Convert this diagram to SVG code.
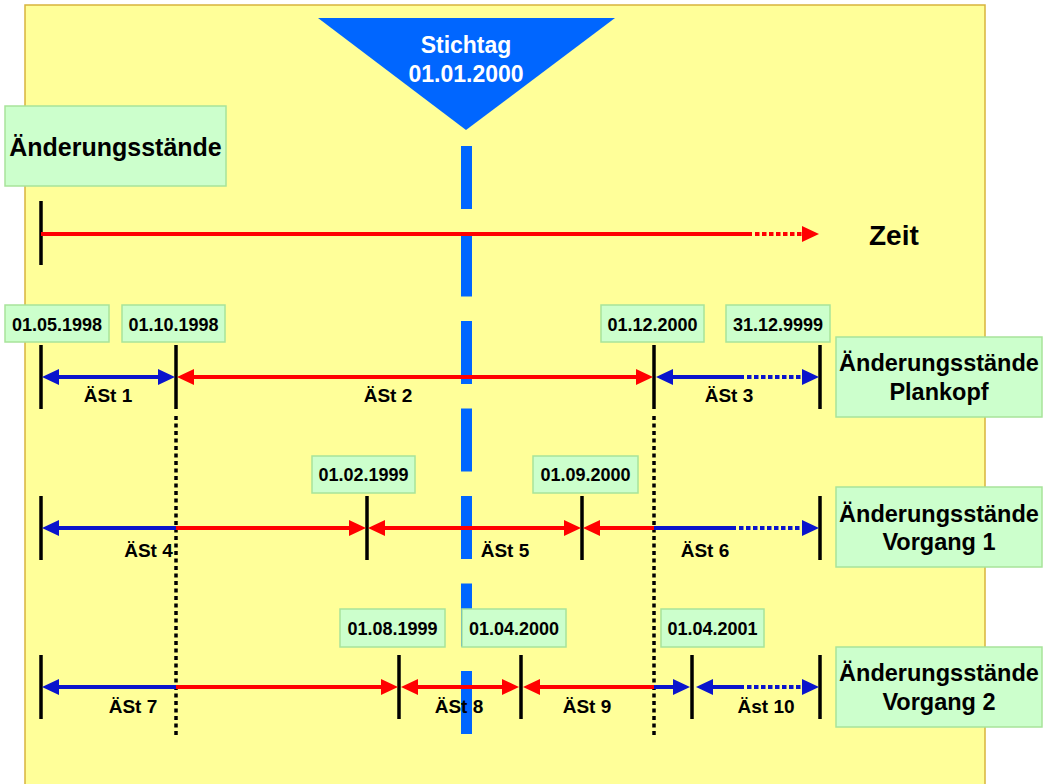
<svg xmlns="http://www.w3.org/2000/svg" width="1044" height="784" viewBox="0 0 1044 784">
<style>
text{font-family:"Liberation Sans",Arial,sans-serif;font-weight:bold;fill:#000}
.box{fill:#CCFFCC;stroke:#A8E49A;stroke-width:1.5}
.date{font-size:18px;text-anchor:middle}
.lbl{font-size:19px;text-anchor:middle}
.big{font-size:23.5px;text-anchor:middle}
.tick{stroke:#000;stroke-width:3.5}
.vdot{stroke:#000;stroke-width:3.5;stroke-dasharray:4 3.5}
.r{stroke:#FF0000;stroke-width:4;fill:none}
.b{stroke:#0A14CC;stroke-width:4;fill:none}
.dot{stroke-dasharray:4.5 2.5}
</style>
<defs>
<marker id="ar" viewBox="0 0 17 16" refX="9" refY="8" markerWidth="17" markerHeight="16" markerUnits="userSpaceOnUse" orient="auto-start-reverse"><path d="M0,0 L17,8 L0,16 z" fill="#FF0000"/></marker>
<marker id="ab" viewBox="0 0 17 16" refX="9" refY="8" markerWidth="17" markerHeight="16" markerUnits="userSpaceOnUse" orient="auto-start-reverse"><path d="M0,0 L17,8 L0,16 z" fill="#0A14CC"/></marker>
</defs>
<rect id="background" x="25" y="5" width="960" height="800" fill="#FFFF99" stroke="#D8B43C" stroke-width="1.5"/>
<g id="stichtag">
<polygon points="318,18 615,18 466,130" fill="#0066FF"/>
<text x="466" y="53" style="font-size:23px;fill:#fff" text-anchor="middle">Stichtag</text>
<text x="466" y="82" style="font-size:23px;fill:#fff" text-anchor="middle">01.01.2000</text>
</g>
<line id="stichtag-line" x1="466.5" y1="146" x2="466.5" y2="735" stroke="#0066FF" stroke-width="11" stroke-dasharray="63 24.5"/>
<g id="title-box">
<rect class="box" x="5" y="106" width="221" height="80"/>
<text x="115.5" y="156" style="font-size:25px" text-anchor="middle">Änderungsstände</text>
</g>
<g id="zeit">
<text x="869" y="245" style="font-size:28px">Zeit</text>
</g>
<g id="connectors">
<line class="tick" x1="41" y1="201" x2="41" y2="265"/>
<line class="r" x1="41" y1="234" x2="752" y2="234"/>
<line class="r dot" x1="755" y1="234" x2="811" y2="234" marker-end="url(#ar)"/>
<line class="vdot" x1="176" y1="416" x2="176" y2="736"/>
<line class="vdot" x1="654" y1="416" x2="654" y2="736"/>
<!-- row 1 -->
<line class="tick" x1="41" y1="345" x2="41" y2="409"/>
<line class="tick" x1="176" y1="345" x2="176" y2="409"/>
<line class="tick" x1="654" y1="345" x2="654" y2="409"/>
<line class="tick" x1="820" y1="345" x2="820" y2="409"/>
<line class="b" x1="50" y1="377" x2="167" y2="377" marker-start="url(#ab)" marker-end="url(#ab)"/>
<line class="r" x1="185" y1="377" x2="645" y2="377" marker-start="url(#ar)" marker-end="url(#ar)"/>
<line class="b" x1="664" y1="377" x2="744" y2="377" marker-start="url(#ab)"/>
<line class="b dot" x1="747" y1="377" x2="811" y2="377" marker-end="url(#ab)"/>
<!-- row 2 -->
<line class="tick" x1="41" y1="496" x2="41" y2="560"/>
<line class="tick" x1="367" y1="496" x2="367" y2="560"/>
<line class="tick" x1="582" y1="496" x2="582" y2="560"/>
<line class="tick" x1="820" y1="496" x2="820" y2="560"/>
<line class="b" x1="50" y1="528" x2="176" y2="528" marker-start="url(#ab)"/>
<line class="r" x1="176" y1="528" x2="358" y2="528" marker-end="url(#ar)"/>
<line class="r" x1="376" y1="528" x2="573" y2="528" marker-start="url(#ar)" marker-end="url(#ar)"/>
<line class="r" x1="591" y1="528" x2="654" y2="528" marker-start="url(#ar)"/>
<line class="b" x1="654" y1="528" x2="736" y2="528"/>
<line class="b dot" x1="739" y1="528" x2="811" y2="528" marker-end="url(#ab)"/>
<!-- row 3 -->
<line class="tick" x1="41" y1="655" x2="41" y2="719"/>
<line class="tick" x1="399" y1="655" x2="399" y2="719"/>
<line class="tick" x1="521" y1="655" x2="521" y2="719"/>
<line class="tick" x1="692" y1="655" x2="692" y2="719"/>
<line class="tick" x1="820" y1="655" x2="820" y2="719"/>
<line class="b" x1="50" y1="687" x2="176" y2="687" marker-start="url(#ab)"/>
<line class="r" x1="176" y1="687" x2="390" y2="687" marker-end="url(#ar)"/>
<line class="r" x1="409" y1="687" x2="511" y2="687" marker-start="url(#ar)" marker-end="url(#ar)"/>
<line class="r" x1="531" y1="687" x2="654" y2="687" marker-start="url(#ar)"/>
<line class="b" x1="654" y1="687" x2="682" y2="687" marker-end="url(#ab)"/>
<line class="b" x1="704" y1="687" x2="744" y2="687" marker-start="url(#ab)"/>
<line class="b dot" x1="747" y1="687" x2="811" y2="687" marker-end="url(#ab)"/>
</g>
<g id="labels">
<text class="lbl" x="108" y="402">ÄSt 1</text>
<text class="lbl" x="388" y="402">ÄSt 2</text>
<text class="lbl" x="729" y="402">ÄSt 3</text>
<text class="lbl" x="148.5" y="557">ÄSt 4</text>
<text class="lbl" x="505" y="557">ÄSt 5</text>
<text class="lbl" x="705" y="557">ÄSt 6</text>
<text class="lbl" x="133" y="713">ÄSt 7</text>
<text class="lbl" x="459" y="713">ÄSt 8</text>
<text class="lbl" x="587" y="713">ÄSt 9</text>
<text class="lbl" x="766" y="713">Äst 10</text>
</g>
<g id="d-19980501"><rect class="box" x="5" y="305" width="104" height="37"/><text class="date" x="57" y="331">01.05.1998</text></g>
<g id="d-19981001"><rect class="box" x="122" y="305" width="103" height="37"/><text class="date" x="173.5" y="331">01.10.1998</text></g>
<g id="d-20001201"><rect class="box" x="601" y="305" width="103" height="37"/><text class="date" x="652.5" y="331">01.12.2000</text></g>
<g id="d-99991231"><rect class="box" x="726" y="305" width="104" height="37"/><text class="date" x="778" y="331">31.12.9999</text></g>
<g id="d-19990201"><rect class="box" x="312" y="456" width="103" height="37"/><text class="date" x="363.5" y="481">01.02.1999</text></g>
<g id="d-20000901"><rect class="box" x="533" y="456" width="105" height="37"/><text class="date" x="585.5" y="481">01.09.2000</text></g>
<g id="d-19990801"><rect class="box" x="340" y="609" width="105" height="38"/><text class="date" x="392.5" y="635">01.08.1999</text></g>
<g id="d-20000401"><rect class="box" x="462" y="609" width="104" height="38"/><text class="date" x="514" y="635">01.04.2000</text></g>
<g id="d-20010401"><rect class="box" x="661" y="609" width="103" height="38"/><text class="date" x="712.5" y="635">01.04.2001</text></g>
<g id="plankopf"><rect class="box" x="836" y="337" width="206" height="80"/><text class="big" x="939" y="371">Änderungsstände</text><text class="big" x="939" y="400">Plankopf</text></g>
<g id="vorgang1"><rect class="box" x="836" y="487" width="206" height="80"/><text class="big" x="939" y="522">Änderungsstände</text><text class="big" x="939" y="550">Vorgang 1</text></g>
<g id="vorgang2"><rect class="box" x="836" y="647" width="206" height="80"/><text class="big" x="939" y="681">Änderungsstände</text><text class="big" x="939" y="710">Vorgang 2</text></g>
</svg>
